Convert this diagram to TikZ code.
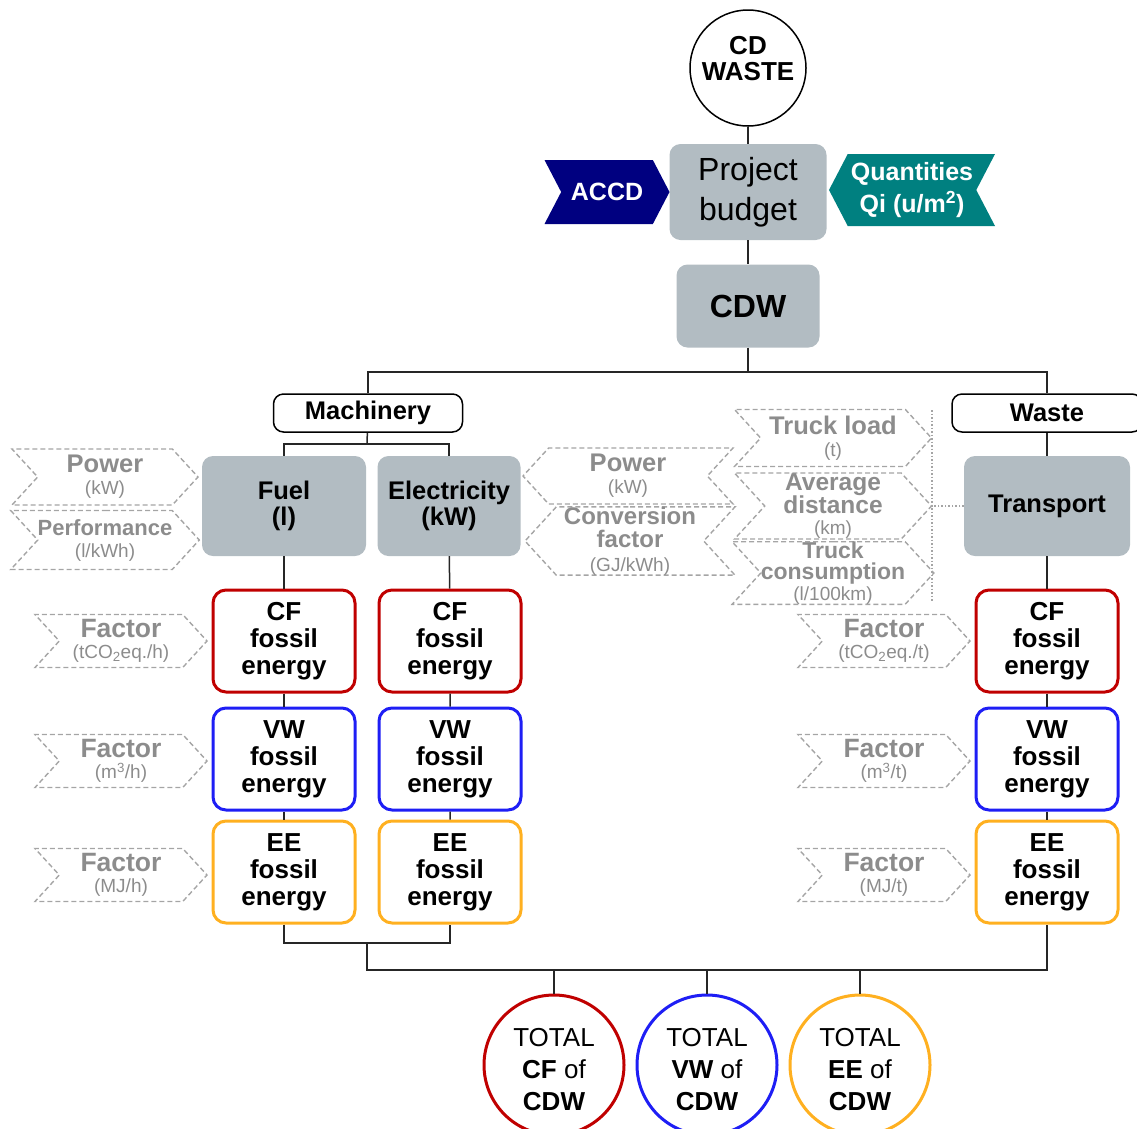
\documentclass[tikz,border=0pt]{standalone}
\usepackage{fontspec}
\setmainfont{Liberation Sans}
\usetikzlibrary{
  shapes.geometric,
  shapes.symbols,
  positioning
}
\definecolor{boxgray}{RGB}{178,188,194}
\definecolor{accdblue}{RGB}{0,0,128}
\definecolor{qteal}{RGB}{0,128,128}
\definecolor{cfred}{RGB}{192,0,0}
\definecolor{vwblue}{RGB}{30,30,245}
\definecolor{eeorange}{RGB}{255,176,32}
\definecolor{dashgray}{RGB}{165,165,165}
\definecolor{labgray}{RGB}{140,140,140}
\newcommand{\unitline}[1]{{\fontsize{19}{19}\selectfont\mdseries #1}}

\begin{document}
\begin{tikzpicture}[x=1pt, y=-1pt,
  stage/.style={rectangle, rounded corners=11pt, fill=boxgray, align=center, inner sep=0pt, font=\fontsize{25.5}{26}\selectfont\bfseries},
  head/.style={rectangle, rounded corners=10pt, draw=black, line width=1.5pt, fill=white, minimum height=38pt, font=\fontsize{25.5}{25.5}\selectfont\bfseries},
  res/.style={rectangle, rounded corners=13pt, line width=3pt, fill=white, minimum width=142pt, minimum height=102pt, align=center, inner sep=0pt, font=\fontsize{26}{27}\selectfont\bfseries},
  tag/.style={signal, signal pointer angle=125, text=white, align=center, inner sep=0pt, font=\fontsize{25}{32}\selectfont\bfseries},
  inp/.style={signal, signal pointer angle=95, draw=dashgray, dash pattern=on 5pt off 3pt, line width=1.4pt, text=labgray, align=center, inner sep=0pt, font=\fontsize{25.5}{21}\selectfont\bfseries},
  inpR/.style={inp, signal to=east, signal from=west},
  inpL/.style={inp, signal to=west, signal from=east},
  total/.style={circle, line width=3pt, fill=white, minimum size=140pt, align=center, inner sep=0pt, font=\fontsize{26}{32}\selectfont},
  link/.style={draw=black!85, line width=1.5pt},
  dotline/.style={draw=dashgray, dotted, line width=1.5pt}
]
  \useasboundingbox (0,0) rectangle (1137,1128);

  \node[circle, draw=black, line width=1.5pt, fill=white, minimum size=116pt, align=center, inner sep=0pt, text depth=20pt, font=\fontsize{26}{26}\selectfont\bfseries] (cdwaste) at (748,68) {CD\\WASTE};
  \node[stage, minimum width=157pt, minimum height=96pt, font=\fontsize{32}{40}\selectfont] (budget) at (748,192) {Project\\budget};
  \node[tag, fill=accdblue, signal to=east, signal from=west, minimum width=125pt, minimum height=64pt] (accd) at (607,192) {ACCD};
  \node[tag, fill=qteal, signal to=west, signal from=east, minimum width=166pt, minimum height=72pt] (qty) at (912,190) {Quantities\\Qi (u/m\textsuperscript{2})};
  \node[stage, minimum width=143pt, minimum height=83pt, font=\fontsize{32}{32}\selectfont\bfseries] (cdw) at (748,306) {CDW};

  \node[head, minimum width=189pt] (mach) at (368,413) {Machinery};
  \node[head, minimum width=190pt] (waste) at (1047,413) {Waste};

  \node[stage, minimum width=164pt, minimum height=100pt] (fuel) at (284,506) {Fuel\\(l)};
  \node[stage, minimum width=143pt, minimum height=100pt] (elec) at (449,506) {Electricity\\(kW)};
  \node[stage, minimum width=166pt, minimum height=100pt] (transp) at (1047,506) {Transport};

  \node[res, draw=cfred] (cf1) at (284,641) {CF\\fossil\\energy};
  \node[res, draw=vwblue] (vw1) at (284,759) {VW\\fossil\\energy};
  \node[res, draw=eeorange] (ee1) at (284,872) {EE\\fossil\\energy};
  \node[res, draw=cfred] (cf2) at (450,641) {CF\\fossil\\energy};
  \node[res, draw=vwblue] (vw2) at (450,759) {VW\\fossil\\energy};
  \node[res, draw=eeorange] (ee2) at (450,872) {EE\\fossil\\energy};
  \node[res, draw=cfred] (cf3) at (1047,641) {CF\\fossil\\energy};
  \node[res, draw=vwblue] (vw3) at (1047,759) {VW\\fossil\\energy};
  \node[res, draw=eeorange] (ee3) at (1047,872) {EE\\fossil\\energy};

  \node[inpR, minimum width=186pt, minimum height=56pt] (fpower) at (105,477) {Power\\[1pt]\unitline{(kW)}};
  \node[inpR, minimum width=186pt, minimum height=59pt, font=\fontsize{22}{21}\selectfont\bfseries] (fperf) at (105,540) {Performance\\[1pt]\unitline{(l/kWh)}};
  \node[inpL, minimum width=210pt, minimum height=56pt] (epower) at (628,476) {Power\\[1pt]\unitline{(kW)}};
  \node[inpL, minimum width=210pt, minimum height=64pt, font=\fontsize{24}{23.5}\selectfont\bfseries] (econv) at (630,541) {Conversion\\factor\\\unitline{(GJ/kWh)}};
  \node[inpR, minimum width=197pt, minimum height=57pt] (tload) at (833,438) {Truck load\\[1pt]\unitline{(t)}};
  \node[inpR, minimum width=197pt, minimum height=66pt, font=\fontsize{24.5}{21}\selectfont\bfseries] (tdist) at (833,506) {Average\\distance\\\unitline{(km)}};
  \node[inpR, minimum width=197pt, minimum height=62pt, font=\fontsize{23}{21}\selectfont\bfseries] (tcons) at (833,573) {Truck\\consumption\\\unitline{(l/100km)}};

  \node[inpR, minimum width=172pt, minimum height=53pt, font=\fontsize{26.5}{21}\selectfont\bfseries] (fcf1) at (121,641) {Factor\\\unitline{(tCO\textsubscript{2}eq./h)}};
  \node[inpR, minimum width=172pt, minimum height=53pt, font=\fontsize{26.5}{21}\selectfont\bfseries] (fvw1) at (121,761) {Factor\\\unitline{(m\textsuperscript{3}/h)}};
  \node[inpR, minimum width=172pt, minimum height=53pt, font=\fontsize{26.5}{21}\selectfont\bfseries] (fee1) at (121,875) {Factor\\\unitline{(MJ/h)}};
  \node[inpR, minimum width=172pt, minimum height=53pt, font=\fontsize{26.5}{21}\selectfont\bfseries] (fcf3) at (884,641) {Factor\\\unitline{(tCO\textsubscript{2}eq./t)}};
  \node[inpR, minimum width=172pt, minimum height=53pt, font=\fontsize{26.5}{21}\selectfont\bfseries] (fvw3) at (884,761) {Factor\\\unitline{(m\textsuperscript{3}/t)}};
  \node[inpR, minimum width=172pt, minimum height=53pt, font=\fontsize{26.5}{21}\selectfont\bfseries] (fee3) at (884,875) {Factor\\\unitline{(MJ/t)}};

  \node[total, draw=cfred] (tcf) at (554,1065) {\rule{0pt}{27pt}TOTAL\\\textbf{CF} of\\\textbf{CDW}};
  \node[total, draw=vwblue] (tvw) at (707,1065) {\rule{0pt}{27pt}TOTAL\\\textbf{VW} of\\\textbf{CDW}};
  \node[total, draw=eeorange] (tee) at (860,1065) {\rule{0pt}{27pt}TOTAL\\\textbf{EE} of\\\textbf{CDW}};

  \coordinate (split) at (748,372);
  \coordinate (msplit) at (367,444);
  \coordinate (bsplit) at (367,943);
  \coordinate (bbar) at (367,970);
  \coordinate (dtop) at (932,410);
  \coordinate (dbot) at (932,602);

  \draw[link] (cdwaste) -- (budget);
  \draw[link] (budget) -- (cdw);
  \draw[link] (cdw) -- (split);
  \draw[link] (mach.north) |- (split) -| (waste.north);
  \draw[link] (mach) -- (msplit);
  \draw[link] (fuel.north) |- (msplit) -| (elec.north);
  \draw[link] (fuel) -- (cf1) -- (vw1) -- (ee1);
  \draw[link] (elec) -- (cf2) -- (vw2) -- (ee2);
  \draw[link] (waste) -- (transp) -- (cf3) -- (vw3) -- (ee3);
  \draw[link] (ee1.south) |- (bsplit) -| (ee2.south);
  \draw[link] (bsplit) -- (bbar) -| (ee3.south);
  \draw[link] (tcf.north) -- (tcf.north |- bbar);
  \draw[link] (tvw.north) -- (tvw.north |- bbar);
  \draw[link] (tee.north) -- (tee.north |- bbar);
  \draw[dotline] (dtop) -- (dbot);
  \draw[dotline] (transp.west) -- (transp.west -| dtop);
\end{tikzpicture}
\end{document}
